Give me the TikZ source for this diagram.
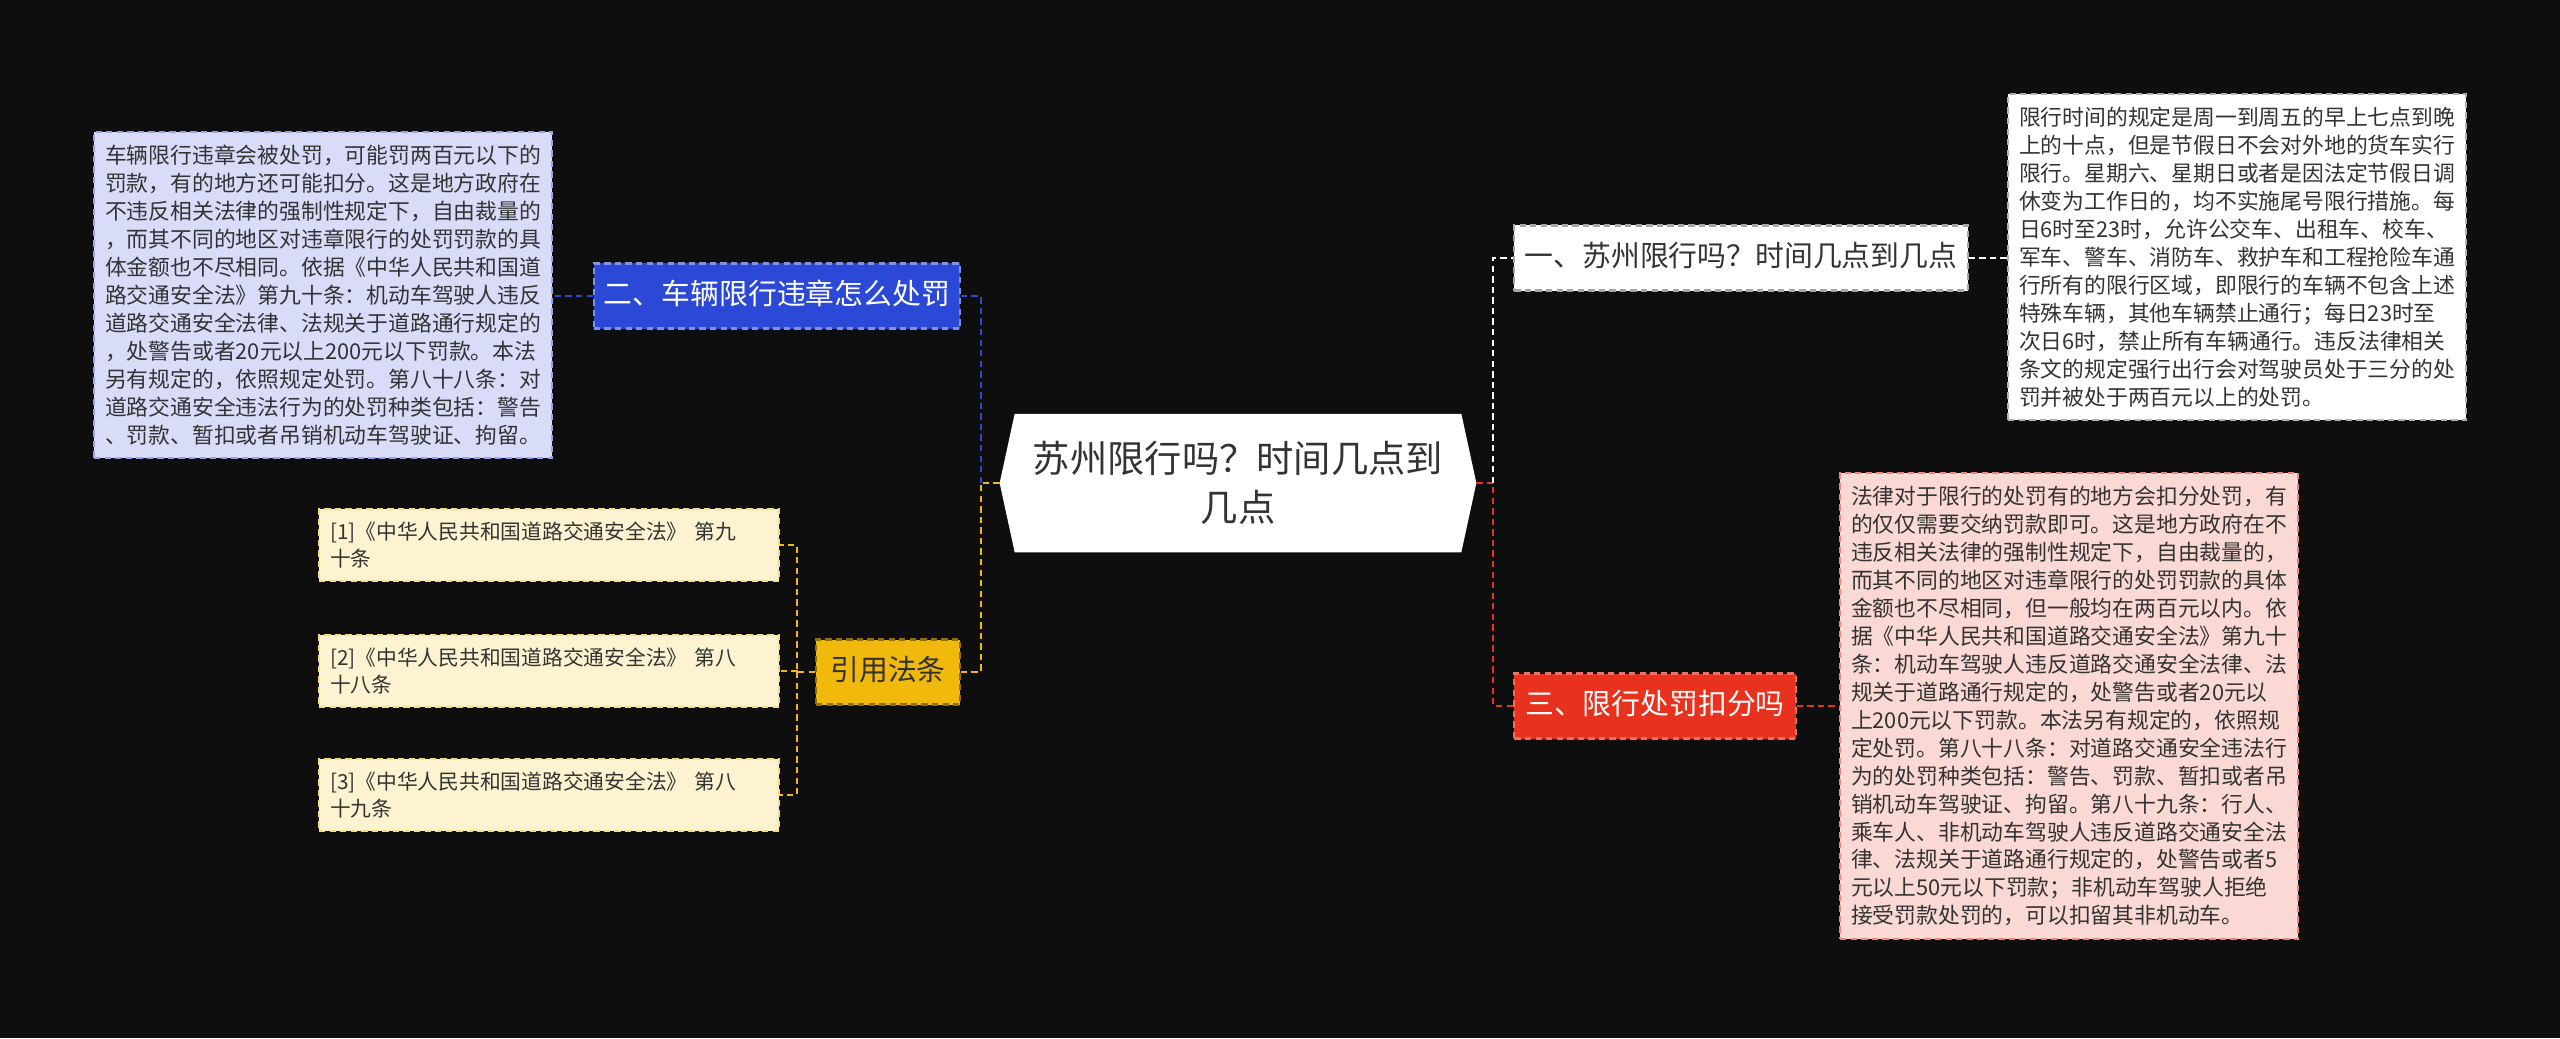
\documentclass[tikz,border=0pt]{standalone}
\usepackage{fontspec}
\setmainfont{Noto Sans CJK SC}
\usetikzlibrary{backgrounds}
\definecolor{bg}{HTML}{0E0E0E}
\definecolor{bluebr}{HTML}{2B48D6}
\definecolor{bluebox}{HTML}{D8DCF8}
\definecolor{redbr}{HTML}{E8321E}
\definecolor{pinkbox}{HTML}{FAD8D4}
\definecolor{yellowbr}{HTML}{F0B90C}
\definecolor{creambox}{HTML}{FDF3D0}
\definecolor{txt}{HTML}{333333}
\tikzset{
  dashline/.style={line width=0.6pt,dash pattern=on 1.8pt off 1.2pt},
  branch/.style={draw,dashline,inner sep=0pt,text height=2.3mm,text depth=0.7mm,minimum height=6.5mm,font=\fontsize{8.2pt}{10pt}\selectfont},
  leaf/.style={draw,dashline,anchor=north west,align=left,inner xsep=1.1mm,inner ysep=1.3mm,text=txt,font=\fontsize{6.2pt}{7.95pt}\selectfont},
  ref/.style={leaf,font=\fontsize{5.9pt}{7.6pt}\selectfont}
}
\begin{document}
\begin{tikzpicture}[x=0.01cm,y=-0.01cm]
	\useasboundingbox (0,0) rectangle (2560,1038);
	% nodes
	\node[text=txt,align=center,font=\fontsize{10.6pt}{14pt}\selectfont,minimum width=4.75cm,minimum height=1.37cm] (root) at (1238,483) {苏州限行吗？时间几点到\\几点};%
	\begin{scope}[on background layer]
	\fill[bg] (0,0) rectangle (2560,1038);
	\fill[white] ([xshift=0.15cm]root.north west) -- ([xshift=-0.15cm]root.north east) -- (root.east) -- ([xshift=-0.15cm]root.south east) -- ([xshift=0.15cm]root.south west) -- (root.west) -- cycle; %
	\end{scope}

	\node[branch,fill=white,draw=gray!70,text=txt,minimum width=4.53cm] (b1) at (1741,258) {一、苏州限行吗？时间几点到几点}; %
	\node[leaf,fill=white,draw=gray!60] (t1) at (2007,93) {限行时间的规定是周一到周五的早上七点到晚\\上的十点，但是节假日不会对外地的货车实行\\限行。星期六、星期日或者是因法定节假日调\\休变为工作日的，均不实施尾号限行措施。每\\日6时至23时，允许公交车、出租车、校车、\\军车、警车、消防车、救护车和工程抢险车通\\行所有的限行区域，即限行的车辆不包含上述\\特殊车辆，其他车辆禁止通行；每日23时至\\次日6时，禁止所有车辆通行。违反法律相关\\条文的规定强行出行会对驾驶员处于三分的处\\罚并被处于两百元以上的处罚。}; %

	\node[branch,fill=redbr,draw=redbr!70!white,text=white,minimum width=2.81cm] (b3) at (1655,706) {三、限行处罚扣分吗}; %
	\node[leaf,fill=pinkbox,draw=redbr!60] (t3) at (1839,472) {法律对于限行的处罚有的地方会扣分处罚，有\\的仅仅需要交纳罚款即可。这是地方政府在不\\违反相关法律的强制性规定下，自由裁量的，\\而其不同的地区对违章限行的处罚罚款的具体\\金额也不尽相同，但一般均在两百元以内。依\\据《中华人民共和国道路交通安全法》第九十\\条：机动车驾驶人违反道路交通安全法律、法\\规关于道路通行规定的，处警告或者20元以\\上200元以下罚款。本法另有规定的，依照规\\定处罚。第八十八条：对道路交通安全违法行\\为的处罚种类包括：警告、罚款、暂扣或者吊\\销机动车驾驶证、拘留。第八十九条：行人、\\乘车人、非机动车驾驶人违反道路交通安全法\\律、法规关于道路通行规定的，处警告或者5\\元以上50元以下罚款；非机动车驾驶人拒绝\\接受罚款处罚的，可以扣留其非机动车。}; %

	\node[branch,fill=bluebr,draw=bluebr!60!white,text=white,minimum width=3.66cm] (b2) at (777,296) {二、车辆限行违章怎么处罚}; %
	\node[leaf,fill=bluebox,draw=bluebr!50] (t2) at (93,131) {车辆限行违章会被处罚，可能罚两百元以下的\\罚款，有的地方还可能扣分。这是地方政府在\\不违反相关法律的强制性规定下，自由裁量的\\，而其不同的地区对违章限行的处罚罚款的具\\体金额也不尽相同。依据《中华人民共和国道\\路交通安全法》第九十条：机动车驾驶人违反\\道路交通安全法律、法规关于道路通行规定的\\，处警告或者20元以上200元以下罚款。本法\\另有规定的，依照规定处罚。第八十八条：对\\道路交通安全违法行为的处罚种类包括：警告\\、罚款、暂扣或者吊销机动车驾驶证、拘留。}; %

	\node[branch,fill=yellowbr,draw=yellowbr!60!black,text=txt,minimum width=1.44cm] (b4) at (888,672) {引用法条}; %
	\node[ref,fill=creambox,draw=yellowbr!50,text width=4.38cm] (r1) at (318,508) {[1]《中华人民共和国道路交通安全法》 第九\\十条}; %
	\node[ref,fill=creambox,draw=yellowbr!50,text width=4.38cm] (r2) at (318,634) {[2]《中华人民共和国道路交通安全法》 第八\\十八条}; %
	\node[ref,fill=creambox,draw=yellowbr!50,text width=4.38cm] (r3) at (318,758) {[3]《中华人民共和国道路交通安全法》 第八\\十九条}; %

	% edges
	\draw[dashline,redbr] (root.east) -- ++(17,0) coordinate (jr) |- (b3.west);
	\draw[dashline,white] (jr) |- (b1.west);
	\draw[dashline,white] (b1.east) -- (t1.west |- b1.east);
	\draw[dashline,redbr] (b3.east) -- (t3.west |- b3.east);

	\draw[dashline,yellowbr] (root.west) -- ++(-19,0) coordinate (jl) |- (b4.east);
	\draw[dashline,bluebr] (jl) |- (b2.east);
	\draw[dashline,bluebr] (b2.west) -- (t2.east |- b2.west);
	\draw[dashline,yellowbr] (b4.west) -- ++(-18,0) coordinate (jy) |- (r1.east);
	\draw[dashline,yellowbr] (jy) |- (r2.east);
	\draw[dashline,yellowbr] (jy) |- (r3.east);
\end{tikzpicture}
\end{document}
